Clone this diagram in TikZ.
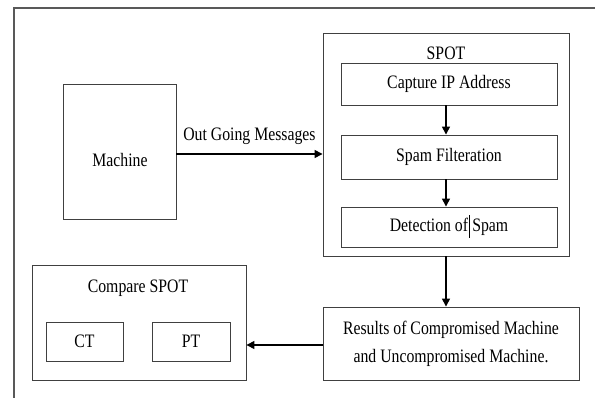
\documentclass[tikz,border=0pt]{standalone}
\usepackage{fontspec}
\setmainfont[FakeStretch=0.83]{Liberation Serif}
\usetikzlibrary{arrows.meta}

\begin{document}
\begin{tikzpicture}[x=1pt, y=-1pt,
  txt/.style={font=\fontsize{19}{28}\selectfont, inner sep=0pt, align=center},
  box/.style={draw=black!75, line width=0.9pt, inner sep=0pt, txt},
  arr/.style={draw=black, line width=1.4pt, -{Triangle[length=8pt,width=8pt]}},
  frame/.style={draw=black!65, line width=1.3pt}]
  \useasboundingbox (0,0) rectangle (595,398);

  % open frame: top and left edges
  \coordinate (fbl) at (14,398);
  \coordinate (ftl) at (14,8);
  \coordinate (ftr) at (595,8);
  \draw[frame] (fbl) -- (ftl) -- (ftr);

  % machine
  \node[box, minimum width=113, minimum height=135] (machine) at (119.5,151.5) {};
  \node[txt] (machinetxt) at (120,160) {Machine};

  % SPOT block with its three stages
  \node[box, minimum width=246, minimum height=223] (spot) at (446,144.5) {};
  \node[txt] (spottitle) at (446,53) {SPOT};
  \node[box, minimum width=216, minimum height=42] (capture) at (449,84) {Capture IP Address};
  \node[box, minimum width=216, minimum height=44] (filter) at (449,157) {Spam Filteration};
  \node[box, minimum width=216, minimum height=40] (detect) at (449,227)
    {Detection of\kern1pt\smash{\rule[-6pt]{0.7pt}{23pt}}\kern2.5pt Spam};

  % results
  \node[box, minimum width=256, minimum height=73] (results) at (451,343.5)
    {Results of Compromised Machine\\and Uncompromised Machine.};

  % comparison block
  \node[box, minimum width=214, minimum height=115] (compare) at (139,322.5) {};
  \node[txt] (comparetitle) at (138,288) {Compare SPOT};
  \node[box, minimum width=77, minimum height=39] (ct) at (84.5,341.5) {CT};
  \node[box, minimum width=78, minimum height=39] (pt) at (191,341.5) {PT};

  % connectors
  \coordinate (msglvl) at (0,154);
  \coordinate (reslvl) at (0,345);
  \coordinate (downx) at (446,0);
  \draw[arr] (machine.east |- msglvl) -- node[txt, above=9pt] (msglabel) {Out Going Messages} (spot.west |- msglvl);
  \draw[arr] (capture.south -| downx) -- (filter.north -| downx);
  \draw[arr] (filter.south -| downx) -- (detect.north -| downx);
  \draw[arr] (spot.south -| downx) -- (results.north -| downx);
  \draw[arr] (results.west |- reslvl) -- (compare.east |- reslvl);
\end{tikzpicture}
\end{document}
